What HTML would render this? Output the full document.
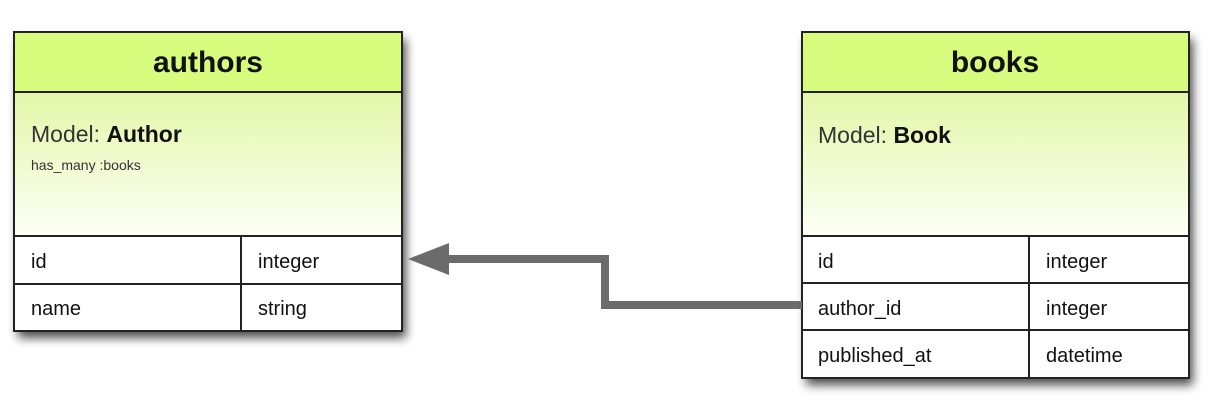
<!DOCTYPE html>
<html><head><style>body{margin:0;background:#fff}</style></head><body>
<svg width="1222" height="404" xmlns="http://www.w3.org/2000/svg" font-family="Liberation Sans, sans-serif">
<defs>
<linearGradient id="g" x1="0" y1="0" x2="0" y2="1"><stop offset="0" stop-color="#e2f7a8"/><stop offset="1" stop-color="#fdfff6"/></linearGradient>
<filter id="s" x="-10%" y="-10%" width="130%" height="130%"><feGaussianBlur in="SourceAlpha" stdDeviation="5"/><feOffset dx="4" dy="7"/><feComponentTransfer><feFuncA type="linear" slope="0.7"/></feComponentTransfer><feMerge><feMergeNode/><feMergeNode in="SourceGraphic"/></feMerge></filter>
</defs>
<g filter="url(#s)">
<rect x="14" y="32" width="388" height="299" fill="#fff"/>
<rect x="802" y="32" width="387" height="346" fill="#fff"/>
</g>
<g stroke="#222" stroke-width="2">
<rect x="14" y="32" width="388" height="60" fill="#d6fb7d"/>
<rect x="14" y="92" width="388" height="144" fill="url(#g)"/>
<rect x="14" y="236" width="388" height="95" fill="#fff"/>
<line x1="14" y1="284" x2="402" y2="284"/><line x1="241" y1="236" x2="241" y2="331"/>
<rect x="802" y="32" width="387" height="60" fill="#d6fb7d"/>
<rect x="802" y="92" width="387" height="144" fill="url(#g)"/>
<rect x="802" y="236" width="387" height="142" fill="#fff"/>
<line x1="802" y1="283" x2="1189" y2="283"/><line x1="802" y1="330" x2="1189" y2="330"/><line x1="1029" y1="236" x2="1029" y2="378"/>
</g>
<g fill="#111">
<text x="208" y="72" font-size="30" font-weight="bold" text-anchor="middle">authors</text>
<text x="995" y="72" font-size="30" font-weight="bold" text-anchor="middle">books</text>
<text x="31" y="142" font-size="23" fill="#333">Model: <tspan font-weight="bold" fill="#111">Author</tspan></text>
<text x="31" y="170" font-size="14" fill="#333">has_many :books</text>
<text x="818" y="143" font-size="23" fill="#333">Model: <tspan font-weight="bold" fill="#111">Book</tspan></text>
<g font-size="20">
<text x="31" y="268">id</text><text x="258" y="268">integer</text>
<text x="31" y="315">name</text><text x="258" y="315">string</text>
<text x="818" y="268">id</text><text x="1046" y="268">integer</text>
<text x="818" y="315">author_id</text><text x="1046" y="315">integer</text>
<text x="818" y="362">published_at</text><text x="1046" y="362">datetime</text>
</g>
</g>
<polyline points="445,259 605,259 605,305 802,305" fill="none" stroke="#6b6b6b" stroke-width="8"/>
<polygon points="408,259 449,243 449,275" fill="#6b6b6b"/>
</svg>
</body></html>
